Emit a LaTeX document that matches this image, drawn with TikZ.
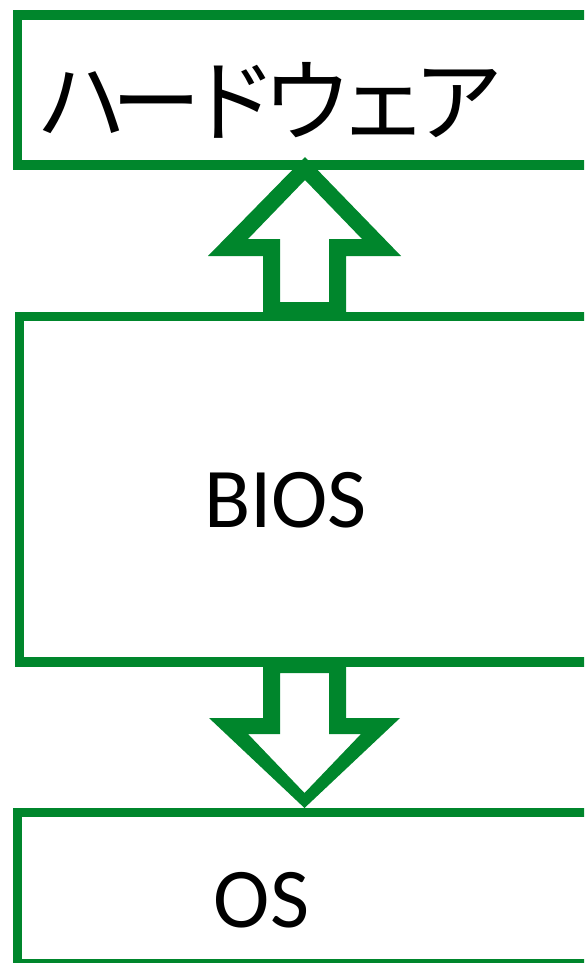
\documentclass[tikz,border=0pt]{standalone}
\usepackage{fontspec}
\setmainfont{Carlito}
\newfontfamily\jpfont{Noto Sans CJK JP}
\usetikzlibrary{calc}
\definecolor{boxgreen}{RGB}{0,134,44}
\newcommand\tightkana{\kern-14.5pt}
\tikzset{
  layerbox/.style={draw=boxgreen, line width=9.5pt, fill=white, rectangle,
    inner sep=0pt, outer sep=0pt, anchor=north west},
  layertext/.style={inner sep=0pt, text=black, anchor=center},
  blockarrow/.style={fill=boxgreen, even odd rule},
}
\begin{document}
\begin{tikzpicture}[x=1pt, y=-1pt]
  \useasboundingbox (0,0) rectangle (584,963);
  \clip (0,0) rectangle (584,963);
  % three stacked layers, running off the right edge
  \node[layerbox, minimum width=580pt, minimum height=150pt] (hw) at (17.5,15) {};
  \node[layerbox, minimum width=580pt, minimum height=345.5pt] (bios) at (19.5,316.5) {};
  \node[layerbox, minimum width=580pt, minimum height=151.5pt] (os) at (17.5,812.5) {};
  % labels
  \node[layertext, font=\jpfont\fontsize{90}{90}\selectfont] (hwlabel) at (270,100)
    {ハ\tightkana ー\tightkana ド\tightkana ウ\tightkana ェ\tightkana ア};
  \node[layertext, font=\fontsize{85}{85}\selectfont] (bioslabel) at (285.5,500) {BIOS};
  \node[layertext, font=\fontsize{85}{85}\selectfont] (oslabel) at (261.5,900) {OS};
  % hollow block arrow: BIOS up to hardware
  \coordinate (uptip) at (305,157);
  \fill[blockarrow]
    (263,316) -- (263,256) -- (208,256) -- (uptip) -- (401,256) -- (346,256) -- (346,316) -- cycle
    (280,302) -- (280,239) -- (248,239) -- (305,180) -- (362,239) -- (329,239) -- (329,302) -- cycle;
  % hollow block arrow: BIOS down to OS
  \coordinate (downtip) at (304.5,808);
  \fill[blockarrow]
    (263,662) -- (263,718) -- (209,718) -- (downtip) -- (400,718) -- (346,718) -- (346,662) -- cycle
    (280,673) -- (280,734) -- (248,734) -- (304.5,793) -- (361,734) -- (329,734) -- (329,673) -- cycle;
\end{tikzpicture}
\end{document}
